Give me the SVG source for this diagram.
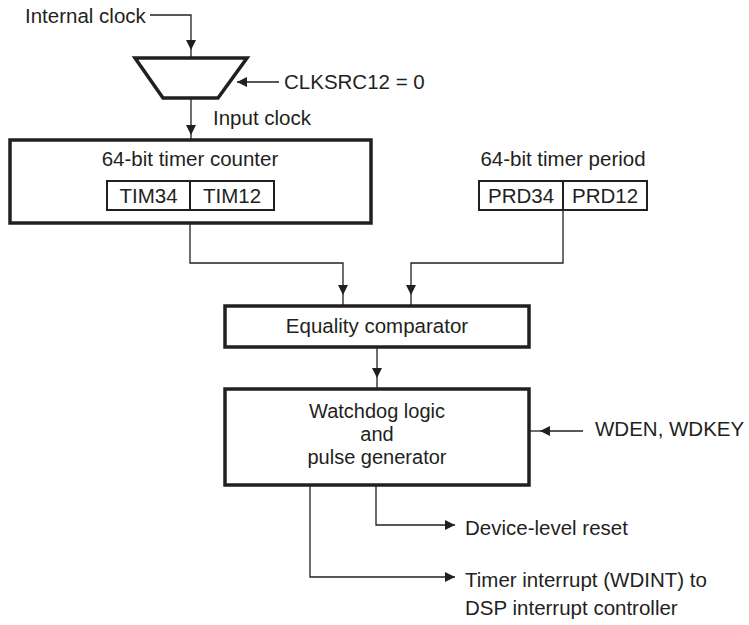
<svg xmlns="http://www.w3.org/2000/svg" width="749" height="625" viewBox="0 0 749 625">
<style>
text{font-family:"Liberation Sans",Arial,sans-serif;font-size:20.5px;fill:#231f20}
.m{text-anchor:middle}
.s{font-size:20px}
.box{fill:#fff;stroke:#231f20;stroke-width:3.5}
.reg{fill:#fff;stroke:#231f20;stroke-width:2}
.ln{fill:none;stroke:#231f20;stroke-width:1.3}
.ar{fill:none;stroke:#231f20;stroke-width:1.3;marker-end:url(#ah)}
</style>
<defs>
<marker id="ah" viewBox="0 0 10 10" refX="10" refY="5" markerWidth="10" markerHeight="10" markerUnits="userSpaceOnUse" orient="auto">
<path d="M0,0 L10,5 L0,10 z" fill="#231f20"/>
</marker>
</defs>
<g id="connectors">
<path class="ar" d="M150,15 H191 V50"/>
<path class="ln" d="M191,50 V58"/>
<path class="ar" d="M279,82 H237"/>
<path class="ar" d="M191,98 V135"/>
<path class="ln" d="M191,135 V140"/>
<path class="ar" d="M190,223 V263 H343 V295"/>
<path class="ln" d="M343,295 V306"/>
<path class="ar" d="M563,210 V263 H411 V295"/>
<path class="ln" d="M411,295 V306"/>
<path class="ar" d="M377,347 V378"/>
<path class="ln" d="M377,378 V389"/>
<path class="ar" d="M583,431 H540"/>
<path class="ln" d="M540,431 H529"/>
<path class="ar" d="M376,485 V525 H455"/>
<path class="ar" d="M310,485 V577 H455"/>
</g>
<g id="internal-clock"><text x="25" y="23">Internal clock</text></g>
<g id="mux"><polygon class="box" points="135,58 247,58 218,98 163,98"/></g>
<g id="clksrc"><text x="284" y="89">CLKSRC12 = 0</text></g>
<g id="input-clock"><text x="213" y="125">Input clock</text></g>
<g id="timer-counter">
<rect class="box" x="10" y="140" width="361" height="83"/>
<text class="m" x="190" y="166">64-bit timer counter</text>
<rect class="reg" x="107" y="181" width="167" height="29"/>
<line class="reg" x1="190" y1="181" x2="190" y2="210"/>
<text class="m" x="148.5" y="203">TIM34</text>
<text class="m" x="232" y="203">TIM12</text>
</g>
<g id="timer-period">
<text class="m" x="563" y="166">64-bit timer period</text>
<rect class="reg" x="479" y="181" width="168" height="29"/>
<line class="reg" x1="563" y1="181" x2="563" y2="210"/>
<text class="m" x="521" y="203">PRD34</text>
<text class="m" x="605" y="203">PRD12</text>
</g>
<g id="comparator">
<rect class="box" x="225" y="306" width="304" height="41"/>
<text class="m" x="377" y="333">Equality comparator</text>
</g>
<g id="watchdog">
<rect class="box" x="225" y="389" width="304" height="96"/>
<text class="m s" x="377" y="418">Watchdog logic</text>
<text class="m s" x="377" y="441">and</text>
<text class="m s" x="377" y="464">pulse generator</text>
</g>
<g id="wden"><text x="595" y="436">WDEN, WDKEY</text></g>
<g id="reset"><text x="465" y="535">Device-level reset</text></g>
<g id="interrupt">
<text x="465" y="587">Timer interrupt (WDINT) to</text>
<text x="465" y="615">DSP interrupt controller</text>
</g>
</svg>
